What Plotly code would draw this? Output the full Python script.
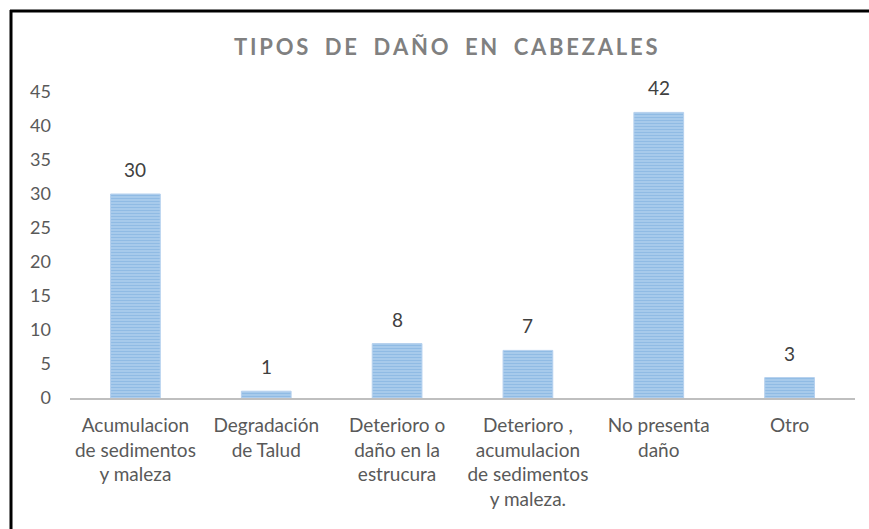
import plotly.graph_objects as go

categories = [
    "Acumulacion<br>de sedimentos<br>y maleza",
    "Degradación<br>de Talud",
    "Deterioro o<br>daño en la<br>estrucura",
    "Deterioro ,<br>acumulacion<br>de sedimentos<br>y maleza.",
    "No presenta<br>daño",
    "Otro",
]
values = [30, 1, 8, 7, 42, 3]
y_ticks = [0, 5, 10, 15, 20, 25, 30, 35, 40, 45]
title_text = "TIPOS DE DAÑO EN CABEZALES"

W, H = 869, 529
ML, MR, MT, MB = 70, 14, 92, 131
plot_w = W - ML - MR
plot_h = H - MT - MB

# spread the title letters apart
spaced_title = "\u2009".join(title_text).replace(" ", "\u2002")

fig = go.Figure(
    go.Bar(
        x=categories,
        y=values,
        width=0.38,
        marker=dict(
            color="#bdd7ee",
            line=dict(width=1, color="#b5d0ee"),
            pattern=dict(shape="-", fgcolor="#5b9bd5", bgcolor="#c4dbf2",
                         size=3, solidity=0.7),
        ),
    )
)

# value labels above each bar
for c, v in zip(categories, values):
    fig.add_annotation(
        x=c, y=v, text=str(v), showarrow=False,
        yanchor="bottom", yshift=11,
        font=dict(family="Lato", size=19, color="#404040"),
    )


def px_x(p):
    return (p - ML) / plot_w


def px_y(p):
    return (H - MB - p) / plot_h


fig.update_layout(
    width=W,
    height=H,
    margin=dict(l=ML, r=MR, t=MT, b=MB),
    paper_bgcolor="white",
    plot_bgcolor="white",
    showlegend=False,
    title=dict(
        text=spaced_title,
        x=0.513,
        xanchor="center",
        y=1 - 47 / H,
        yanchor="middle",
        font=dict(family="Lato", size=22, color="#808080", weight="bold"),
    ),
    xaxis=dict(
        showgrid=False,
        showline=True,
        linecolor="#bfbfbf",
        linewidth=2,
        ticks="",
        tickfont=dict(family="Lato", size=19, color="#595959"),
        ticklabelstandoff=9,
    ),
    yaxis=dict(
        range=[0, 45],
        tickvals=y_ticks,
        showgrid=False,
        showline=False,
        zeroline=False,
        ticks="",
        tickfont=dict(family="Lato", size=18, color="#595959"),
        ticklabelstandoff=18,
    ),
    shapes=[
        dict(type="line", xref="paper", yref="paper",
             x0=px_x(11), x1=px_x(11), y0=px_y(10), y1=px_y(540),
             line=dict(color="black", width=3)),
        dict(type="line", xref="paper", yref="paper",
             x0=px_x(10), x1=px_x(880), y0=px_y(11), y1=px_y(11),
             line=dict(color="black", width=3)),
    ],
)

fig.write_html("out.html")
